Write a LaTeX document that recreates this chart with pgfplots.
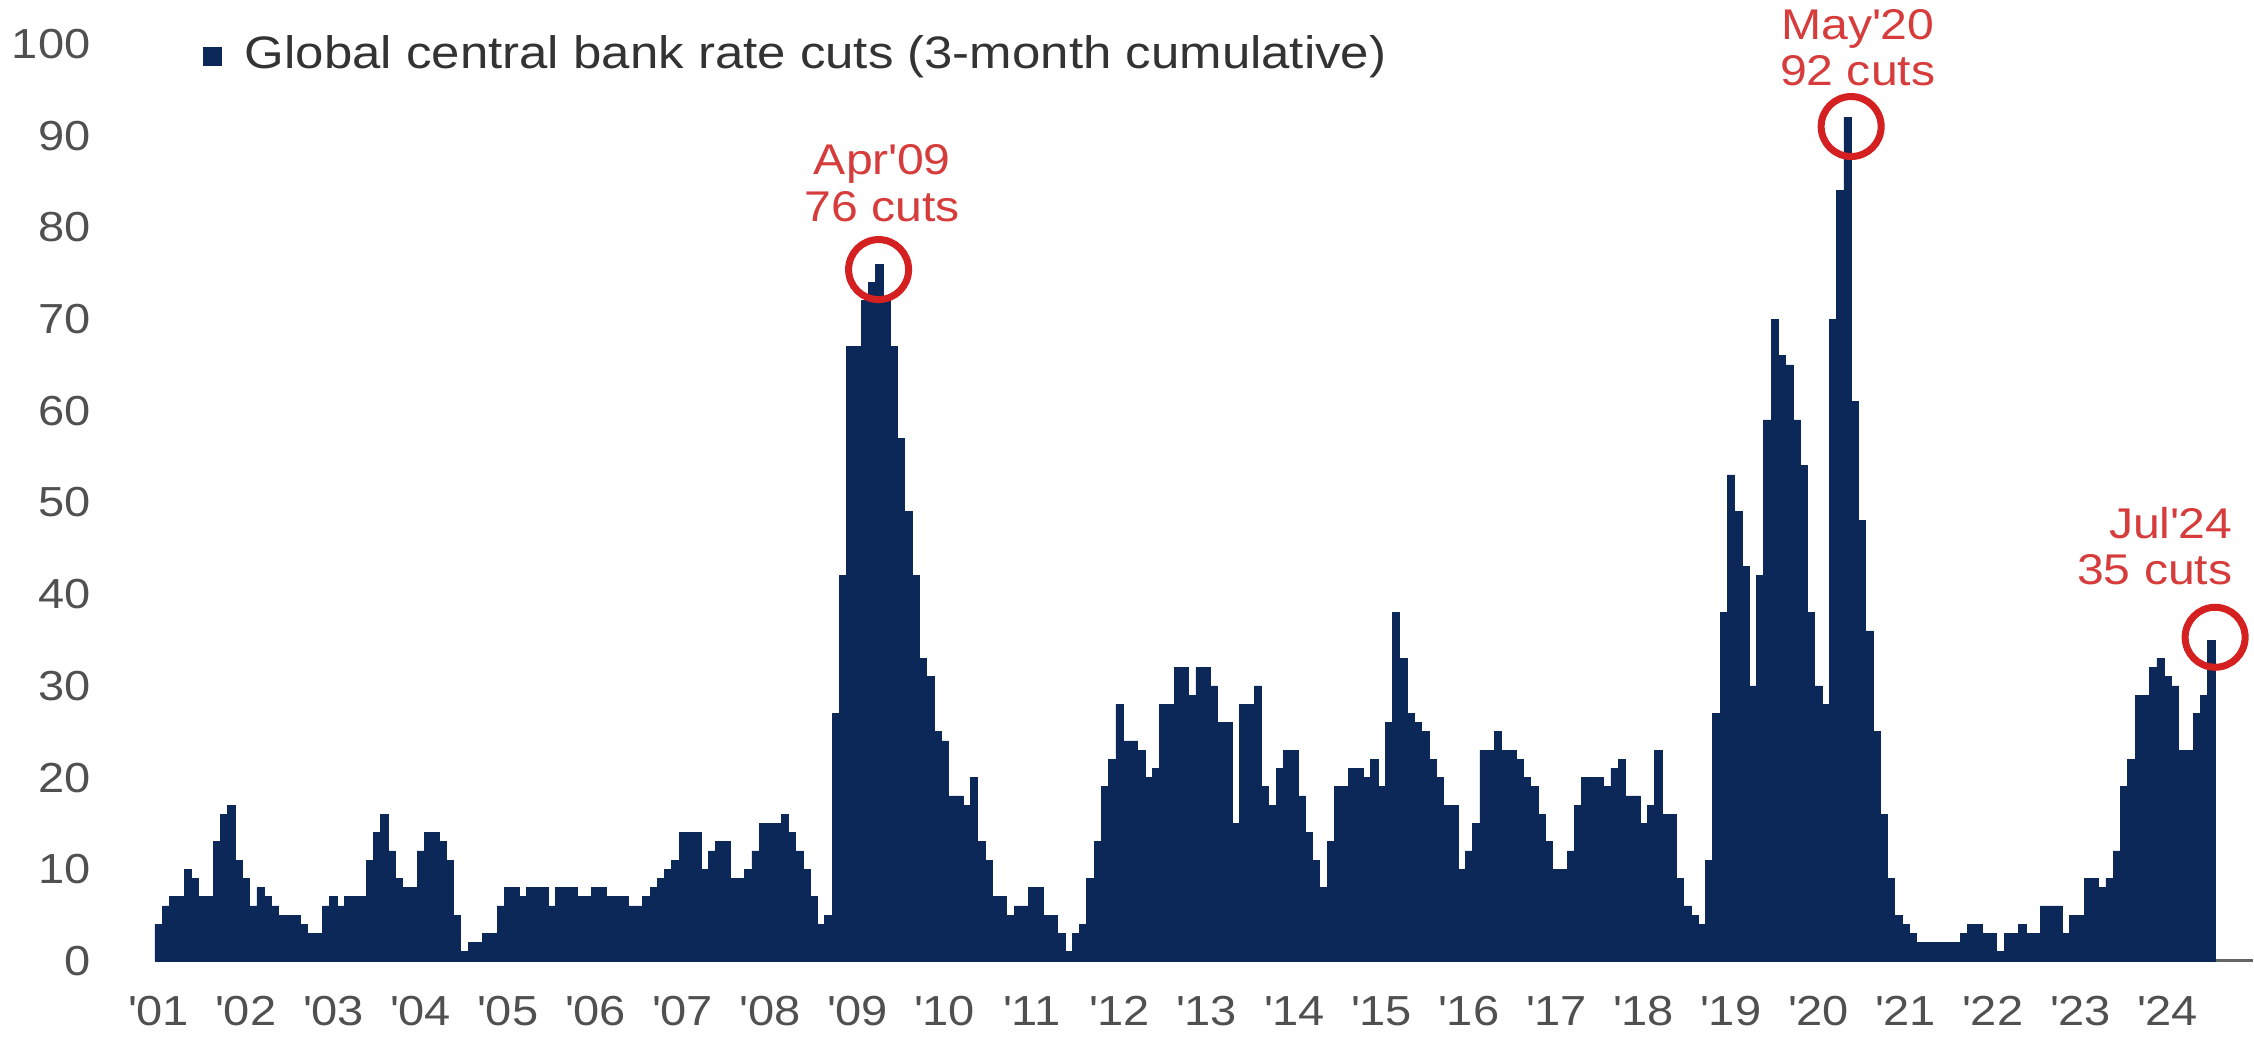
\documentclass[border=0pt]{standalone}
\usepackage{fontspec}
\setmainfont{Liberation Sans}[FakeStretch=1.12]
\usepackage{pgfplots}
\usepackage{pgfplotstable}
\pgfplotsset{compat=1.18}
\usetikzlibrary{calc}
\definecolor{navy}{RGB}{12,40,88}
\definecolor{annot}{RGB}{214,60,60}
\definecolor{circ}{RGB}{212,32,32}
\definecolor{tickgray}{RGB}{80,80,80}
\newcommand{\q}{\textquotesingle}

\pgfplotstableread{
v
4
6
7
7
10
9
7
7
13
16
17
11
9
6
8
7
6
5
5
5
4
3
3
6
7
6
7
7
7
11
14
16
12
9
8
8
12
14
14
13
11
5
1
2
2
3
3
6
8
8
7
8
8
8
6
8
8
8
7
7
8
8
7
7
7
6
6
7
8
9
10
11
14
14
14
10
12
13
13
9
9
10
12
15
15
15
16
14
12
10
7
4
5
27
42
67
67
72
74
76
72
67
57
49
42
33
31
25
24
18
18
17
20
13
11
7
7
5
6
6
8
8
5
5
3
1
3
4
9
13
19
22
28
24
24
23
20
21
28
28
32
32
29
32
32
30
26
26
15
28
28
30
19
17
21
23
23
18
14
11
8
13
19
19
21
21
20
22
19
26
38
33
27
26
25
22
20
17
17
10
12
15
23
23
25
23
23
22
20
19
16
13
10
10
12
17
20
20
20
19
21
22
18
18
15
17
23
16
16
9
6
5
4
11
27
38
53
49
43
30
42
59
70
66
65
59
54
38
30
28
70
84
92
61
48
36
25
16
9
5
4
3
2
2
2
2
2
2
3
4
4
3
3
1
3
3
4
3
3
6
6
6
3
5
5
9
9
8
9
12
19
22
29
29
32
33
31
30
23
23
27
29
35
}\cuts

\begin{document}
\begin{tikzpicture}[font=\fontsize{8.4pt}{10pt}\selectfont]
\begin{axis}[
  scale only axis,
  width=419.6pt, height=183.4pt,
  xmin=-0.5, xmax=287.7, ymin=0, ymax=100,
  axis x line*=bottom, axis y line*=left,
  x axis line style={draw=black!60, line width=0.6pt, -},
  y axis line style={draw=none},
  xtick={0,12,...,276},
  xticklabels={\q01,\q02,\q03,\q04,\q05,\q06,\q07,\q08,\q09,\q10,\q11,\q12,\q13,\q14,\q15,\q16,\q17,\q18,\q19,\q20,\q21,\q22,\q23,\q24},
  ytick={0,10,...,100},
  major tick length=0pt,
  tick style={draw=none},
  ticklabel style={text=tickgray, font=\fontsize{8.4pt}{10pt}\selectfont},
  yticklabel style={xshift=-9.4pt},
  xticklabel style={yshift=-3.6pt},
  /pgf/number format/assume math mode=true,
  clip=false,
  legend style={at={(0.0225,0.987)}, anchor=west, draw=none, fill=none, inner sep=0pt,
    font=\fontsize{9.1pt}{11pt}\selectfont, text=black!80},
  legend cell align=left,
  legend image code/.code={\fill[navy] (0pt,-1.8pt) rectangle (3.6pt,1.8pt); \path (6.2pt,0pt);},
]
\addplot[ybar, bar width=1, bar shift=0pt, fill=navy, draw=navy, line width=0.15pt]
  table[x expr=\coordindex, y=v] {\cuts};
\addlegendentry{Global central bank rate cuts (3-month cumulative)}
\addplot[only marks, mark=o, mark size=6pt, mark options={draw=circ, line width=1.4pt}, forget plot]
  coordinates {(98.9,75.4) (232.5,91) (282.5,35.3)};
\node[text=annot, align=center, font=\fontsize{8.6pt}{9.4pt}\selectfont] at (axis cs:99.4,84.8) {Apr\q09\\76 cuts};
\node[text=annot, align=center, font=\fontsize{8.6pt}{9.2pt}\selectfont] at (axis cs:233.4,99.6) {May\q20\\92 cuts};
\node[text=annot, align=right, anchor=east, font=\fontsize{8.6pt}{9.2pt}\selectfont] at (axis cs:287.3,45.2) {Jul\q24\\35 cuts};
\end{axis}
\pgfresetboundingbox
\path[use as bounding box] ($(current axis.south west)+(-31pt,-16.8pt)$) rectangle ($(current axis.north east)+(0.2pt,8.8pt)$);
\end{tikzpicture}
\end{document}
